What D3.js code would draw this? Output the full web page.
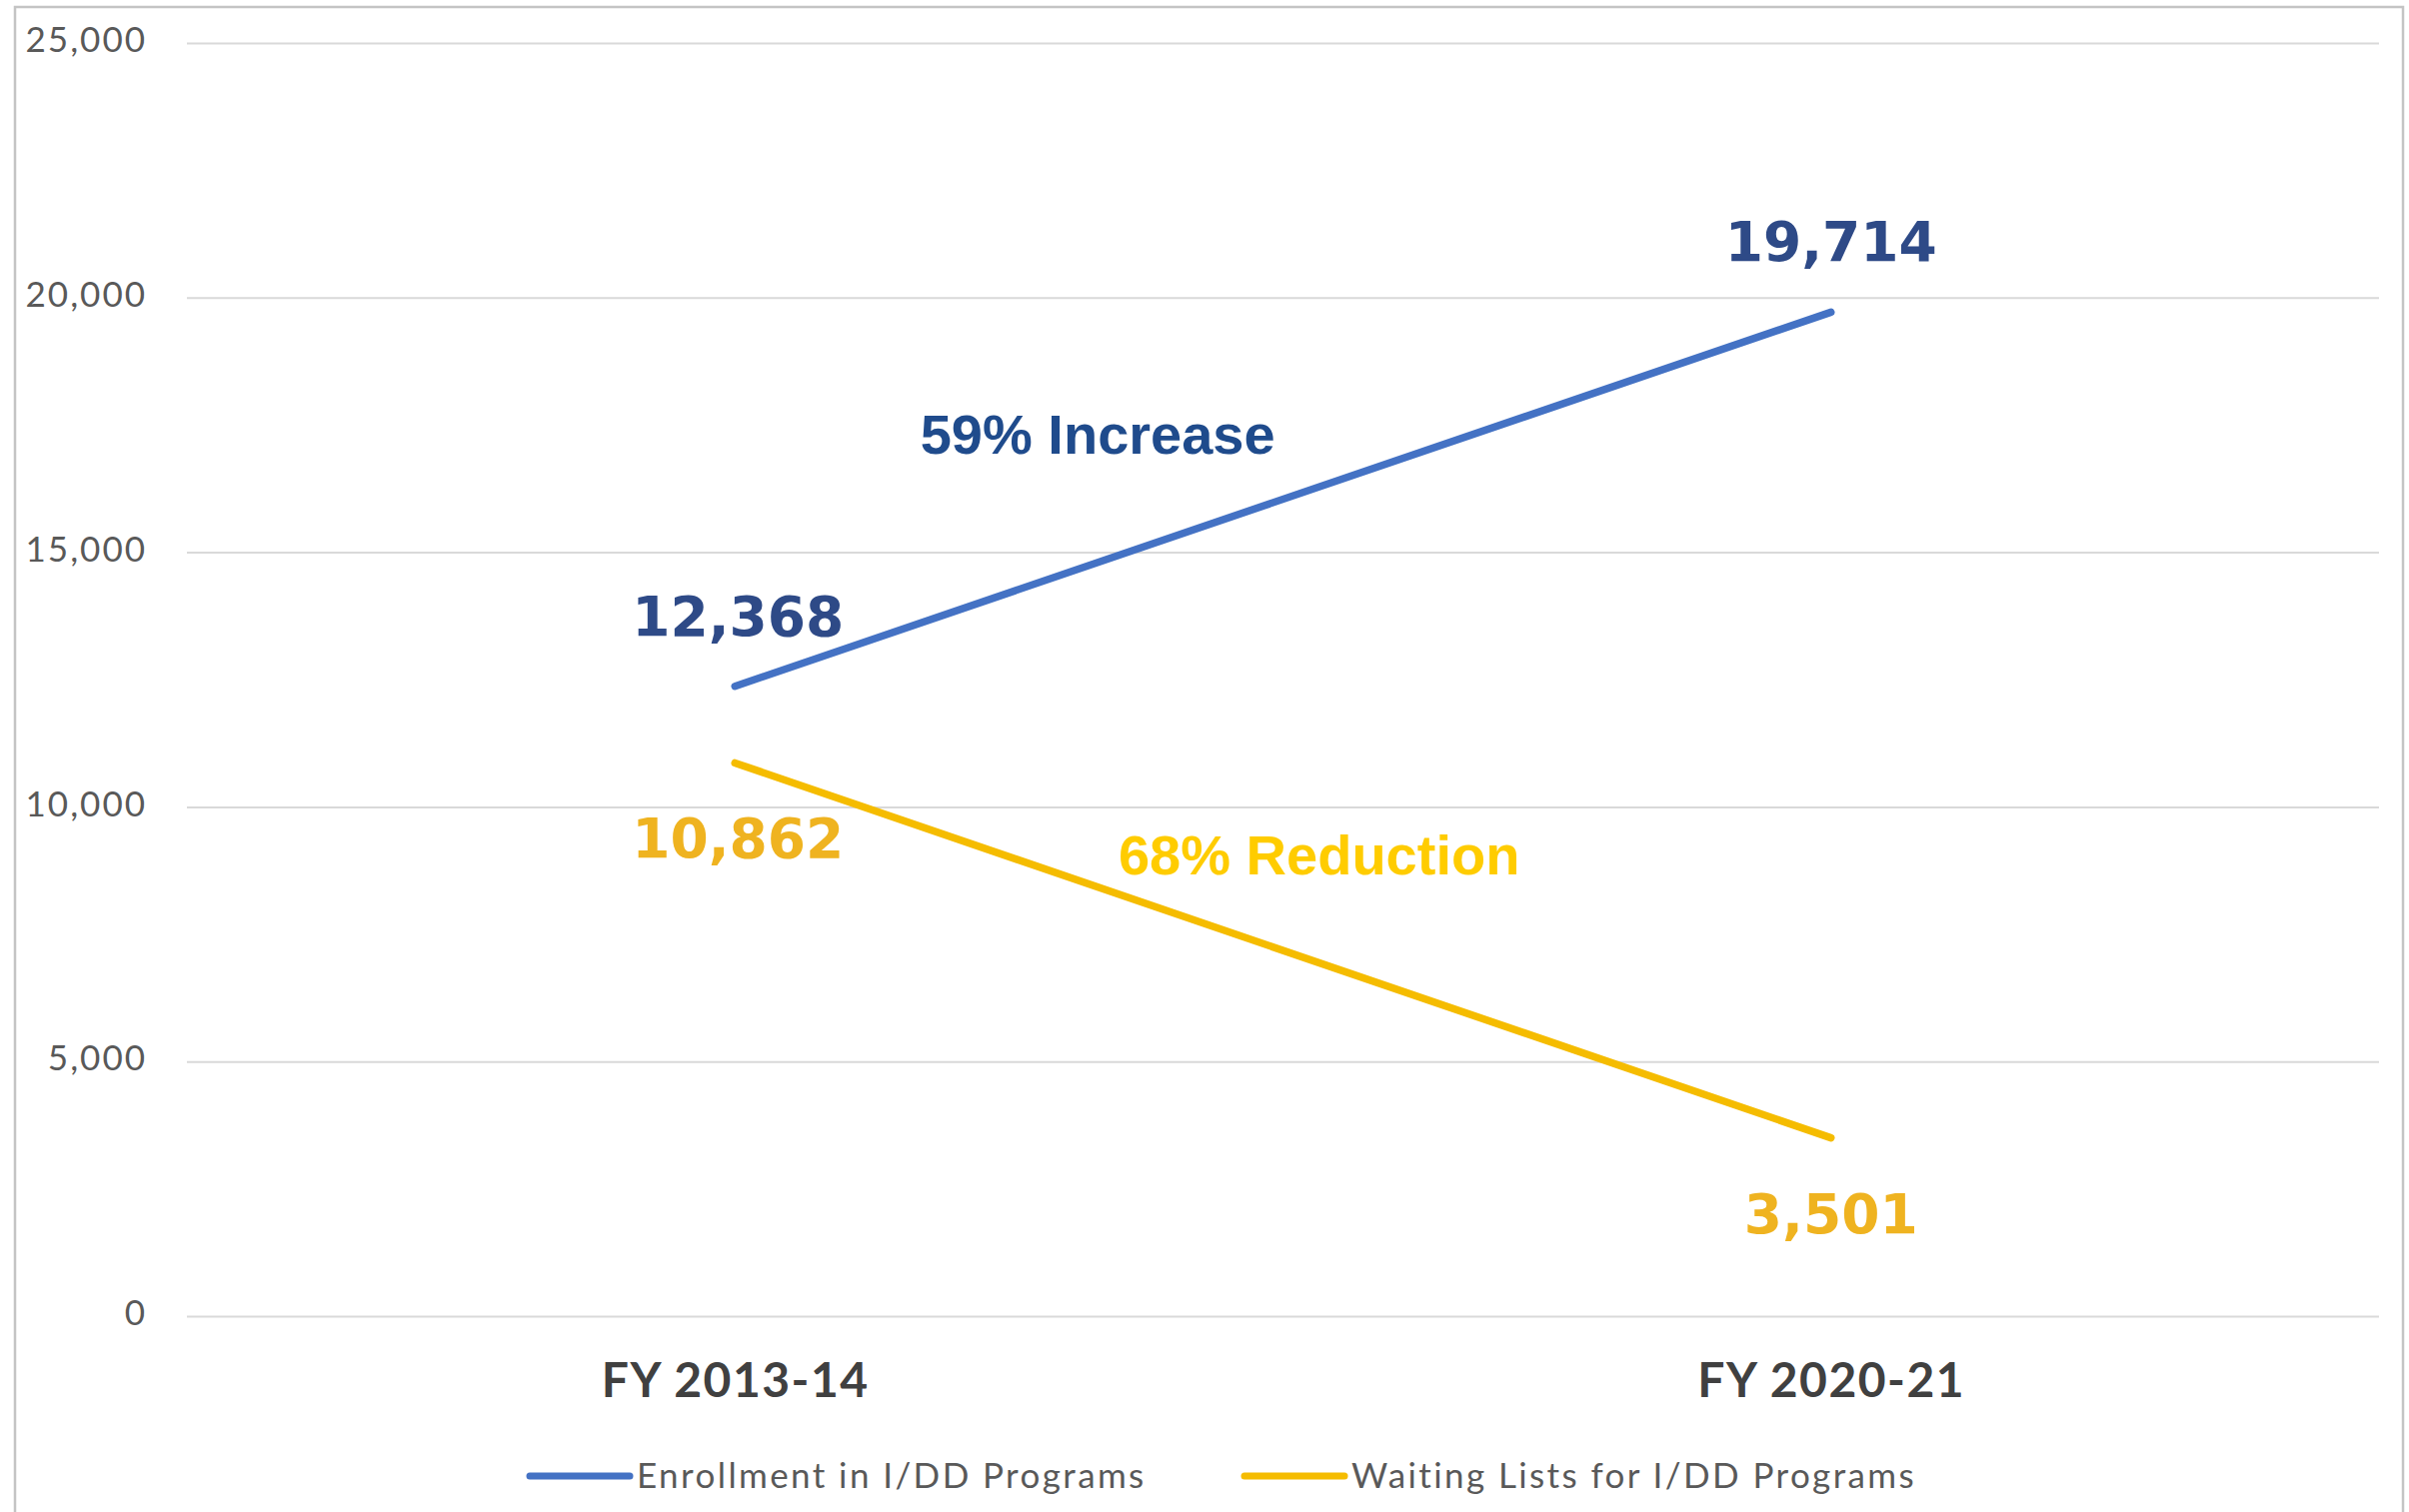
<!DOCTYPE html>
<html>
<head>
<meta charset="utf-8">
<script src="https://cdn.jsdelivr.net/npm/d3@7"></script>
<style>
    body { margin: 0; background: #fff; }
    svg { display: block; }
</style>
</head>
<body>
<div id="chart"></div>
<script>
// chart values
const categories = ["FY 2013-14", "FY 2020-21"];
const enrollment = [12368, 19714];
const waitingLists = [10862, 3501];
const yTicks = [0, 5000, 10000, 15000, 20000, 25000];
const seriesNames = ["Enrollment in I/DD Programs", "Waiting Lists for I/DD Programs"];
const changeLabels = ["59% Increase", "68% Reduction"];

const width = 2410, height = 1513;
const margin = {top: 43, right: 30, bottom: 196, left: 187};
const innerW = width - margin.left - margin.right;
const innerH = height - margin.top - margin.bottom;

const blue = "#4472C4", gold = "#F5BC00";

let svg = d3.select("#chart").append("svg")
    .attr("width", width)
    .attr("height", height);

// outer frame
svg.append("rect")
    .attr("x", 15).attr("y", 7)
    .attr("width", 2389).attr("height", 1530)
    .attr("fill", "#fff")
    .attr("stroke", "#c4c4c4")
    .attr("stroke-width", 2.5);

let g = svg.append("g")
    .attr("transform", `translate(${margin.left},${margin.top})`);

let x = d3.scalePoint()
    .domain(categories)
    .range([0, innerW])
    .padding(0.5);

let y = d3.scaleLinear()
    .domain([0, 25000])
    .range([innerH, 0]);

// y axis + gridlines
let yAxis = g.append("g")
    .call(d3.axisLeft(y)
        .tickValues(yTicks)
        .tickFormat(d3.format(","))
        .tickSize(-innerW)
        .tickPadding(40));
yAxis.select(".domain").remove();
yAxis.selectAll(".tick line")
    .attr("stroke", "#d9d9d9")
    .attr("stroke-width", 2);
yAxis.selectAll(".tick text")
    .attr("fill", "#595959")
    .attr("font-family", "Lato, 'Open Sans', sans-serif")
    .attr("font-size", 35)
    .attr("letter-spacing", 2)
    .attr("dy", "0.25em");

// x axis labels
let xAxis = g.append("g")
    .attr("transform", `translate(0,${innerH})`)
    .call(d3.axisBottom(x).tickSize(0));
xAxis.select(".domain").remove();
xAxis.selectAll(".tick text")
    .attr("y", 81)
    .attr("dy", 0)
    .attr("fill", "#404040")
    .attr("font-family", "Lato, sans-serif")
    .attr("font-weight", "bold")
    .attr("font-size", 48)
    .attr("letter-spacing", 1.5);

const series = [
    {name: seriesNames[0], values: enrollment, color: blue, label: "#2E4A87", dy: -51},
    {name: seriesNames[1], values: waitingLists, color: gold, label: "#EFB320", dy: 95}
];

let line = d3.line()
    .x((d, i) => x(categories[i]))
    .y(d => y(d));

series.forEach(s => {
    g.append("path")
        .datum(s.values)
        .attr("d", line)
        .attr("fill", "none")
        .attr("stroke", s.color)
        .attr("stroke-width", 7.5)
        .attr("stroke-linecap", "round");

    g.selectAll(null)
        .data(s.values)
        .enter()
        .append("text")
        .attr("x", (d, i) => x(categories[i]) + (i === 0 ? 3 : 0))
        .attr("y", d => y(d) + s.dy)
        .attr("text-anchor", "middle")
        .attr("fill", s.label)
        .attr("font-family", "'DejaVu Sans', Verdana, sans-serif")
        .attr("font-weight", "bold")
        .attr("font-size", 55)
        .text(d => d3.format(",")(d));
});

// change annotations
const x0 = x(categories[0]), x1 = x(categories[1]);
g.append("text")
    .attr("x", x0 + (x1 - x0) * 0.331)
    .attr("y", y(16930))
    .attr("text-anchor", "middle")
    .attr("fill", "#1F4B8C")
    .attr("font-family", "'Liberation Sans', Arial, sans-serif")
    .attr("font-weight", "bold")
    .attr("font-size", 56)
    .text(changeLabels[0]);

g.append("text")
    .attr("x", x0 + (x1 - x0) * 0.533)
    .attr("y", y(8670))
    .attr("text-anchor", "middle")
    .attr("fill", "#FFCC00")
    .attr("font-family", "'Liberation Sans', Arial, sans-serif")
    .attr("font-weight", "bold")
    .attr("font-size", 56)
    .text(changeLabels[1]);

// legend
let legend = svg.append("g")
    .attr("transform", "translate(530,1477)");
const legendX = [0, 715];
series.forEach((s, i) => {
    let item = legend.append("g")
        .attr("transform", `translate(${legendX[i]},0)`);
    item.append("line")
        .attr("x1", 0).attr("x2", 100)
        .attr("y1", 0).attr("y2", 0)
        .attr("stroke", s.color)
        .attr("stroke-width", 7)
        .attr("stroke-linecap", "round");
    item.append("text")
        .attr("x", 107)
        .attr("y", 12)
        .attr("fill", "#595959")
        .attr("font-family", "Lato, sans-serif")
        .attr("font-size", 35)
        .attr("letter-spacing", 2.4)
        .text(s.name);
});
</script>
</body>
</html>
